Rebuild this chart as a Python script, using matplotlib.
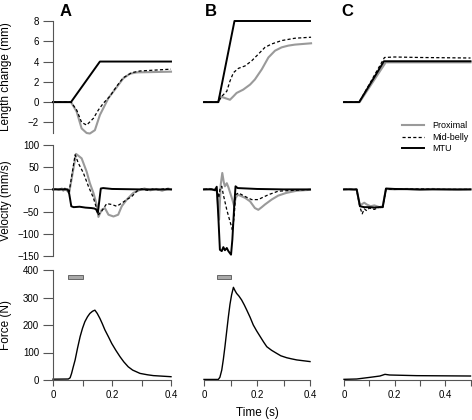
import matplotlib
matplotlib.use('Agg')
import matplotlib.pyplot as plt
from matplotlib.patches import Rectangle
from matplotlib.lines import Line2D

plt.rcParams['font.family'] = ['Liberation Sans', 'DejaVu Sans']

# ---- length change (mm) ----
A_len_mtu_t = [0, 0.061, 0.159, 0.4]
A_len_mtu = [0, 0, 4, 4]
A_len_prox_t = [0, 0.061, 0.08, 0.097, 0.114, 0.125, 0.142, 0.159, 0.188, 0.216, 0.238, 0.261, 0.284, 0.4]
A_len_prox = [0, 0, -0.93, -2.6, -3.05, -3.1, -2.77, -1.27, 0.4, 1.47, 2.33, 2.8, 2.93, 3.0]
A_len_mid_t = [0, 0.061, 0.08, 0.097, 0.114, 0.137, 0.154, 0.171, 0.193, 0.216, 0.238, 0.267, 0.295, 0.4]
A_len_mid = [0, 0, -0.77, -2.0, -2.27, -1.6, -0.77, -0.1, 0.57, 1.57, 2.4, 2.9, 3.07, 3.25]

B_len_mtu_t = [0, 0.054, 0.115, 0.4]
B_len_mtu = [0, 0, 8, 8]
B_len_prox_t = [0, 0.054, 0.06, 0.079, 0.098, 0.111, 0.123, 0.148, 0.174, 0.192, 0.218, 0.243, 0.268, 0.293, 0.318, 0.343, 0.404]
B_len_prox = [0, 0, 0.57, 0.4, 0.23, 0.57, 0.9, 1.23, 1.73, 2.23, 3.23, 4.4, 5.07, 5.4, 5.57, 5.67, 5.8]
B_len_mid_t = [0, 0.054, 0.067, 0.086, 0.098, 0.111, 0.13, 0.155, 0.18, 0.205, 0.23, 0.255, 0.293, 0.343, 0.404]
B_len_mid = [0, 0, 0.57, 1.07, 2.07, 2.9, 3.33, 3.57, 4.07, 4.73, 5.4, 5.73, 6.07, 6.3, 6.4]

C_len_mtu_t = [0, 0.06, 0.158, 0.5]
C_len_mtu = [0, 0, 4.03, 4.03]
C_len_prox_t = [0, 0.062, 0.165, 0.5]
C_len_prox = [0, 0, 3.92, 3.92]
C_len_mid_t = [0, 0.06, 0.16, 0.2, 0.3, 0.5]
C_len_mid = [0, 0, 4.4, 4.45, 4.4, 4.35]

# ---- velocity (mm/s) ----
A_vel_mtu_t = [0, 0.05, 0.055, 0.062, 0.07, 0.09, 0.11, 0.13, 0.14, 0.146, 0.152, 0.158, 0.162, 0.17, 0.2, 0.3, 0.4]
A_vel_mtu = [0, 0, -10, -38, -40, -39, -41, -42, -43, -45, -53, -20, 2, 3, 1, 0, 0]
A_vel_prox_t = [0, 0.01, 0.02, 0.03, 0.035, 0.04, 0.046, 0.055, 0.078, 0.097, 0.114, 0.125, 0.137, 0.148, 0.154,
                0.165, 0.176, 0.188, 0.205, 0.221, 0.233, 0.25, 0.272, 0.295, 0.31, 0.33, 0.35, 0.37, 0.39, 0.4]
A_vel_prox = [0, 1, -1, 2, -3, 2, -2, -7, 80, 70, 40, 14, -8, -34, -62,
              -46, -42, -57, -61, -57, -38, -23, -8, -1, 2, -2, 1, -3, 2, 0]
A_vel_mid_t = [0, 0.02, 0.04, 0.05, 0.055, 0.075, 0.086, 0.103, 0.12, 0.137, 0.154, 0.165, 0.182, 0.199,
               0.216, 0.233, 0.25, 0.267, 0.284, 0.3, 0.32, 0.34, 0.36, 0.38, 0.4]
A_vel_mid = [0, 0, 1, -1, -5, 78, 59, 37, 7, -19, -57, -49, -32, -34,
             -38, -31, -23, -16, -4, 1, -2, 1, -1, 2, 0]

B_vel_mtu_t = [0, 0.03, 0.0415, 0.048, 0.054, 0.06, 0.067, 0.073, 0.079, 0.086, 0.092, 0.102, 0.107, 0.114,
               0.119, 0.127, 0.2, 0.3, 0.4]
B_vel_mtu = [0, 0, -2, 6, -60, -136, -139, -130, -137, -132, -139, -147, -113, -38, 7, 3, 1, 0, 0]
B_vel_prox_t = [0, 0.02, 0.035, 0.045, 0.05, 0.057, 0.063, 0.069, 0.075, 0.079, 0.086, 0.092, 0.1, 0.107,
                0.114, 0.119, 0.127, 0.14, 0.155, 0.174, 0.192, 0.205, 0.218, 0.23, 0.255, 0.28, 0.31, 0.35, 0.4]
B_vel_prox = [0, 1, -1, 2, -10, -68, 10, 37, 15, 7, 14, 5, -10, -23,
              -38, -20, -12, -15, -19, -27, -42, -46, -40, -34, -23, -14, -8, -3, -1]
B_vel_mid_t = [0, 0.02, 0.04, 0.05, 0.056, 0.06, 0.067, 0.073, 0.086, 0.098, 0.107, 0.114, 0.119, 0.13,
               0.155, 0.18, 0.205, 0.218, 0.243, 0.28, 0.343, 0.404]
B_vel_mid = [0, 1, 0, -3, -19, 0, 7, -12, -46, -72, -91, -61, -12, -8,
             -16, -23, -23, -19, -12, -4, -2, 0]

C_vel_mtu_t = [0, 0.05, 0.063, 0.08, 0.1, 0.12, 0.14, 0.153, 0.166, 0.2, 0.3, 0.4, 0.5]
C_vel_mtu = [0, 0, -38, -40, -40, -41, -40, -40, 2, 1, 0, 0, 0]
C_vel_prox_t = [0, 0.02, 0.04, 0.05, 0.063, 0.08, 0.09, 0.105, 0.12, 0.14, 0.153, 0.166, 0.2, 0.25,
                0.3, 0.35, 0.4, 0.45, 0.5]
C_vel_prox = [0, 1, -1, 0, -36, -30, -34, -38, -36, -40, -38, 1, 0, 1, -1, 1, 0, -1, 0]
C_vel_mid_t = [0, 0.05, 0.063, 0.072, 0.08, 0.09, 0.1, 0.12, 0.14, 0.153, 0.166, 0.2, 0.3, 0.4, 0.5]
C_vel_mid = [0, 0, -40, -55, -44, -48, -42, -45, -40, -42, 1, 0, 1, 0, 0]

# ---- force (N) ----
A_force_t = [0, 0.052, 0.058, 0.063, 0.068, 0.075, 0.083, 0.092, 0.1, 0.108, 0.117, 0.125, 0.134, 0.142,
             0.15, 0.159, 0.167, 0.176, 0.188, 0.199, 0.213, 0.227, 0.24, 0.255, 0.27, 0.295, 0.32, 0.34, 0.37, 0.4]
A_force = [3, 3.6, 8, 24, 45, 73, 115, 158, 188, 212, 230, 242, 250, 254,
           242, 224, 205, 182, 157, 133, 108, 85, 66, 48, 36, 24, 19, 16, 14, 12]
B_force_t = [0, 0.054, 0.06, 0.067, 0.073, 0.079, 0.086, 0.092, 0.098, 0.104, 0.111, 0.117, 0.123, 0.132,
             0.142, 0.152, 0.161, 0.174, 0.186, 0.199, 0.212, 0.225, 0.237, 0.255, 0.274, 0.29, 0.312, 0.33, 0.35, 0.375, 0.4]
B_force = [2, 2, 10, 36, 75, 121, 180, 230, 275, 309, 337, 325, 315, 305,
           291, 273, 255, 228, 200, 178, 158, 138, 121, 108, 97, 88, 81, 77, 73, 70, 67]
C_force_t = [0, 0.05, 0.103, 0.142, 0.162, 0.18, 0.287, 0.5]
C_force = [2.4, 3.6, 9.7, 14.5, 20.6, 18.2, 15.8, 14.5]

stim = (0.05, 0.1)
panels = ['A', 'B', 'C']
xmax = {'A': 0.4, 'B': 0.4, 'C': 0.5}

W, H = 472, 420
fig = plt.figure(figsize=(W / 100, H / 100), dpi=100)

def box(x0, x1, ytop, ybot):
    return [x0 / W, 1 - ybot / H, (x1 - x0) / W, (ybot - ytop) / H]

colx = {'A': (53, 171), 'B': (204, 310), 'C': (344, 470.5)}
rowy = {'len': (21, 132.5, -3, 8), 'vel': (145, 256, -150, 100), 'force': (270, 380, 0, 400)}
ylabels = {'len': 'Length change (mm)', 'vel': 'Velocity (mm/s)', 'force': 'Force (N)'}
yticks = {'len': [-2, 0, 2, 4, 6, 8], 'vel': [-150, -100, -50, 0, 50, 100], 'force': [0, 100, 200, 300, 400]}

GRAY = '#9a9a9a'
SPINE = '#555555'
data = globals()

for p in panels:
    for r in ['len', 'vel', 'force']:
        yt, yb, lo, hi = rowy[r]
        ax = fig.add_axes(box(colx[p][0], colx[p][1], yt, yb))
        ax.set_xlim(0, xmax[p])
        ax.set_ylim(lo, hi)
        for s in ax.spines.values():
            s.set_visible(False)
        if r == 'force':
            ax.plot(data[p + '_force_t'], data[p + '_force'], color='black', lw=1.0, clip_on=False)
            if p != 'C':
                ax.add_patch(Rectangle((stim[0], 367), stim[1] - stim[0], 14, facecolor='#a8a8a8',
                                       edgecolor='#555555', lw=0.6, clip_on=False))
            ax.spines['bottom'].set_visible(True)
            ax.spines['bottom'].set_color(SPINE)
            ax.spines['bottom'].set_linewidth(0.8)
            ticks = [i / 10 for i in range(int(round(xmax[p] * 10)) + 1)]
            ax.set_xticks(ticks)
            ax.set_xticklabels(['0' if t == 0 else ('%g' % t if round(t * 10) % 2 == 0 else '') for t in ticks])
            ax.tick_params(axis='x', direction='out', length=4, width=0.8, color=SPINE, labelsize=7, pad=3)
        else:
            ax.plot(data[p + '_' + r + '_prox_t'], data[p + '_' + r + '_prox'], color=GRAY, lw=1.5, clip_on=False)
            ax.plot(data[p + '_' + r + '_mid_t'], data[p + '_' + r + '_mid'], color='black', lw=0.9,
                    dashes=(2.5, 1.8), clip_on=False)
            ax.plot(data[p + '_' + r + '_mtu_t'], data[p + '_' + r + '_mtu'], color='black', lw=1.4, clip_on=False)
            ax.set_xticks([])
        if p == 'A':
            ax.spines['left'].set_visible(True)
            ax.spines['left'].set_color(SPINE)
            ax.spines['left'].set_linewidth(0.8)
            ax.set_yticks(yticks[r])
            ax.tick_params(axis='y', direction='out', length=7, width=0.8, color=SPINE, labelsize=7, pad=3)
            ax.set_ylabel(ylabels[r], fontsize=8.5)
            ax.yaxis.set_label_coords(-41 / 118, 0.5)
        else:
            ax.set_yticks([])
        if r == 'len':
            letter_x = {'A': 66, 'B': 211, 'C': 347}[p]
            fig.text(letter_x / W, 1 - 11 / H, p, ha='center', va='center', fontsize=12, fontweight='bold')

fig.text(257 / W, 1 - 413 / H, 'Time (s)', ha='center', va='center', fontsize=8.5)

handles = [Line2D([], [], color=GRAY, lw=1.5),
           Line2D([], [], color='black', lw=0.9, dashes=(2.5, 1.8)),
           Line2D([], [], color='black', lw=1.4)]
fig.legend(handles, ['Proximal', 'Mid-belly', 'MTU'], loc='upper left', bbox_to_anchor=(402 / W, 1 - 121 / H),
           frameon=False, fontsize=6.5, handlelength=2.4, handletextpad=1.0, labelspacing=0.3,
           borderpad=0, borderaxespad=0)

fig.savefig('out.png', dpi=100)
